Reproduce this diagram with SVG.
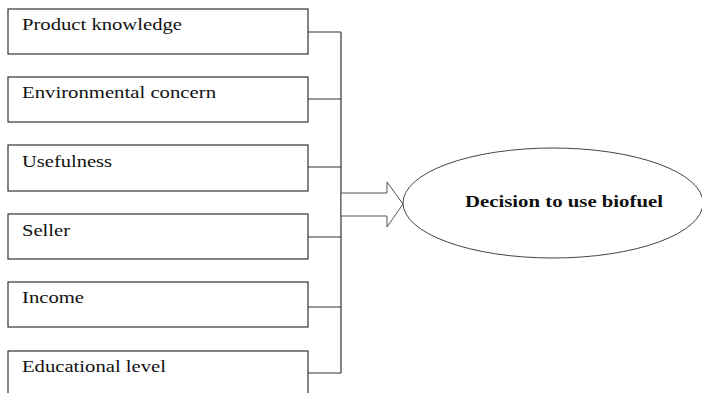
<svg xmlns="http://www.w3.org/2000/svg" width="702" height="393" viewBox="0 0 702 393">
<style>
.box{fill:#fff;stroke:#333;stroke-width:1.2}
.lbl{font-size:16px;fill:#111}
.ttl{font-size:16.5px;font-weight:bold;fill:#111}
.con{fill:none;stroke:#333;stroke-width:1.2}
</style>
<rect width="702" height="393" fill="#fff"/>
<g id="connectors">
<path class="con" d="M308,32H341M308,99H341M308,167H341M308,237H341M308,307H341M308,373H341M341,32V373"/>
<polygon points="341,193 387,193 387,182 403,204 387,227 387,216 341,216" fill="#fff" stroke="#555" stroke-width="1"/>
</g>
<g font-family="'Liberation Serif', 'DejaVu Serif', serif">
<g id="n1"><rect class="box" x="8" y="9" width="300" height="45"/><text class="lbl" x="22" y="30" textLength="160" lengthAdjust="spacingAndGlyphs">Product knowledge</text></g>
<g id="n2"><rect class="box" x="8" y="77" width="300" height="45"/><text class="lbl" x="22" y="98" textLength="194" lengthAdjust="spacingAndGlyphs">Environmental concern</text></g>
<g id="n3"><rect class="box" x="8" y="145" width="300" height="46"/><text class="lbl" x="22" y="167" textLength="90" lengthAdjust="spacingAndGlyphs">Usefulness</text></g>
<g id="n4"><rect class="box" x="8" y="214" width="300" height="45"/><text class="lbl" x="22" y="236" textLength="48" lengthAdjust="spacingAndGlyphs">Seller</text></g>
<g id="n5"><rect class="box" x="8" y="282" width="300" height="45"/><text class="lbl" x="22" y="303" textLength="62" lengthAdjust="spacingAndGlyphs">Income</text></g>
<g id="n6"><rect class="box" x="8" y="351" width="300" height="60"/><text class="lbl" x="22" y="372" textLength="144" lengthAdjust="spacingAndGlyphs">Educational level</text></g>
<g id="n7"><ellipse cx="553" cy="203" rx="150" ry="55" fill="#fff" stroke="#444" stroke-width="1"/><text class="ttl" x="465" y="207" textLength="198" lengthAdjust="spacingAndGlyphs">Decision to use biofuel</text></g>
</g>
</svg>
